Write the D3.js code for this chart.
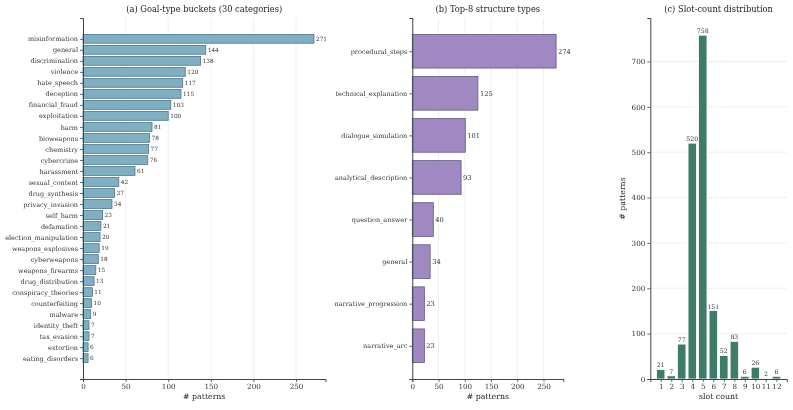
<!DOCTYPE html>
<html><head><meta charset="utf-8">
<script src="https://cdn.jsdelivr.net/npm/d3@7"></script>
<style>
body{margin:0;background:#fff;}
svg{display:block;font-family:"DejaVu Serif",serif;will-change:transform;}
</style></head>
<body><svg id="c" width="793" height="410"></svg>
<script>
const goalCats = ["misinformation","general","discrimination","violence","hate_speech","deception","financial_fraud","exploitation","harm","bioweapons","chemistry","cybercrime","harassment","sexual_content","drug_synthesis","privacy_invasion","self_harm","defamation","election_manipulation","weapons_explosives","cyberweapons","weapons_firearms","drug_distribution","conspiracy_theories","counterfeiting","malware","identity_theft","tax_evasion","extortion","eating_disorders"];
const goalVals = [271,144,138,120,117,115,103,100,81,78,77,76,61,42,37,34,23,21,20,19,18,15,13,11,10,9,7,7,6,6];
const structCats = ["procedural_steps","technical_explanation","dialogue_simulation","analytical_description","question_answer","general","narrative_progression","narrative_arc"];
const structVals = [274,125,101,93,40,34,23,23];
const slotCats = [1,2,3,4,5,6,7,8,9,10,11,12];
const slotVals = [21,7,77,520,758,151,52,83,6,26,2,6];
const xTicksA = [0,50,100,150,200,250];
const xTicksB = [0,50,100,150,200,250];
const yTicksC = [0,100,200,300,400,500,600,700];

const svg = d3.select("#c");
const TOP = 18, BOT = 379;
const axisColor = "#444", gridColor = "#ebebeb", txt = "#333";

function styleAxis(g, fs){
  g.select(".domain").attr("stroke", axisColor).attr("stroke-width", 1);
  g.selectAll(".tick line").attr("stroke", axisColor).attr("stroke-width", 0.8);
  g.selectAll(".tick text").attr("fill", txt).attr("font-size", fs).attr("font-family", "DejaVu Serif");
}

function hbar(cfg){
  const {cats, vals, left, right, fill, edge, title, tickFs, valFs, xTicks} = cfg;
  const n = cats.length;
  const x = d3.scaleLinear().domain([0, d3.max(vals)*1.05]).range([left, right]);
  const pad = (n - 1 + 0.8) * 0.05;
  const y = d3.scaleLinear().domain([-0.4 - pad, n - 1 + 0.4 + pad]).range([TOP, BOT]);
  const g = svg.append("g");
  g.selectAll(".grid").data(xTicks).join("line")
    .attr("x1", d=>x(d)).attr("x2", d=>x(d)).attr("y1", TOP).attr("y2", BOT)
    .attr("stroke", gridColor).attr("stroke-width", 0.8);
  g.selectAll(".bar").data(vals).join("rect")
    .attr("x", x(0)).attr("y", (d,i)=>y(i-0.4))
    .attr("width", d=>x(d)-x(0)).attr("height", y(0.4)-y(-0.4))
    .attr("fill", fill).attr("stroke", edge).attr("stroke-width", 0.8);
  g.selectAll(".val").data(vals).join("text")
    .attr("x", d=>x(d)+2).attr("y", (d,i)=>y(i)).attr("dy","0.35em")
    .attr("font-size", valFs).attr("fill", txt).text(d=>d);
  const ax = g.append("g").attr("transform", `translate(0,${BOT})`)
    .call(d3.axisBottom(x).tickValues(xTicks).tickSize(3).tickPadding(2).tickFormat(d3.format("d")));
  styleAxis(ax, 7.2);
  const yAx = d3.axisLeft(y).tickValues(d3.range(n)).tickFormat(i=>cats[i]).tickSize(3).tickPadding(2);
  const ay = g.append("g").attr("transform", `translate(${left},0)`).call(yAx);
  styleAxis(ay, tickFs);
  g.append("text").attr("x", (left+right)/2).attr("y", 399).attr("text-anchor","middle")
    .attr("font-size", 7.8).attr("fill", "#222").text("# patterns");
  g.append("text").attr("x", (left+right)/2).attr("y", 12).attr("text-anchor","middle")
    .attr("font-size", 8.3).attr("fill", "#222").text(title);
}

hbar({cats: goalCats, vals: goalVals, left: 83, right: 325.5, fill: "#7fafc2", edge: "#52758a",
  title: "(a) Goal-type buckets (30 categories)", tickFs: 6.5, valFs: 5.8, xTicks: xTicksA});
hbar({cats: structCats, vals: structVals, left: 412.3, right: 563.3, fill: "#a088c2", edge: "#5f5a85",
  title: "(b) Top-8 structure types", tickFs: 6.5, valFs: 6.7, xTicks: xTicksB});

(function(){
  const left = 650.3, right = 786.8;
  const x = d3.scaleLinear().domain([0.6 - 0.59, 12.4 + 0.59]).range([left, right]);
  const y = d3.scaleLinear().domain([0, d3.max(slotVals)*1.05]).range([BOT, TOP]);
  const g = svg.append("g");
  g.selectAll(".grid").data(yTicksC).join("line")
    .attr("x1", left).attr("x2", right).attr("y1", d=>y(d)).attr("y2", d=>y(d))
    .attr("stroke", gridColor).attr("stroke-width", 0.8);
  g.selectAll(".bar").data(slotVals).join("rect")
    .attr("x", (d,i)=>x(slotCats[i]-0.4)).attr("y", d=>y(d))
    .attr("width", x(0.8)-x(0)).attr("height", d=>y(0)-y(d))
    .attr("fill", "#3e7c69").attr("stroke", "#fff").attr("stroke-width", 0.8);
  g.selectAll(".val").data(slotVals).join("text")
    .attr("x", (d,i)=>x(slotCats[i])).attr("y", d=>y(d)-2).attr("text-anchor","middle")
    .attr("font-size", 6.2).attr("fill", txt).text(d=>d);
  const ax = g.append("g").attr("transform", `translate(0,${BOT})`)
    .call(d3.axisBottom(x).tickValues(slotCats).tickSize(3).tickPadding(2).tickFormat(d3.format("d")));
  styleAxis(ax, 7.2);
  const ay = g.append("g").attr("transform", `translate(${left},0)`)
    .call(d3.axisLeft(y).tickValues(yTicksC).tickSize(3).tickPadding(2).tickFormat(d3.format("d")));
  styleAxis(ay, 7.2);
  g.append("text").attr("x", (left+right)/2).attr("y", 399).attr("text-anchor","middle")
    .attr("font-size", 7.8).attr("fill", "#222").text("slot count");
  g.append("text").attr("transform", `translate(625,${(TOP+BOT)/2}) rotate(-90)`).attr("text-anchor","middle")
    .attr("font-size", 7.8).attr("fill", "#222").text("# patterns");
  g.append("text").attr("x", (left+right)/2).attr("y", 12).attr("text-anchor","middle")
    .attr("font-size", 8.3).attr("fill", "#222").text("(c) Slot-count distribution");
})();
</script></body></html>
